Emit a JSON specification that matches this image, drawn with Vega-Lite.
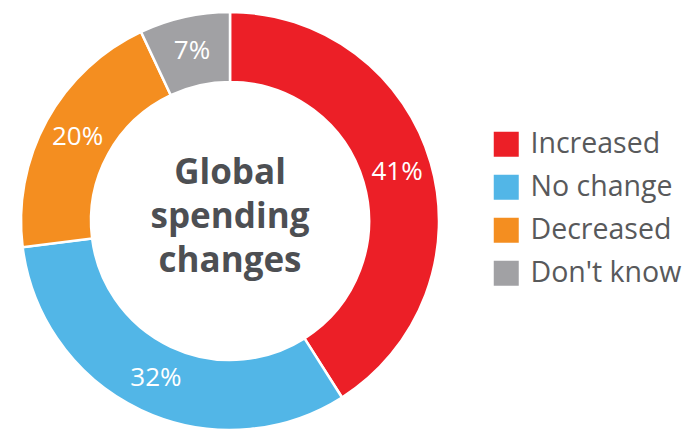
{
  "$schema": "https://vega.github.io/schema/vega-lite/v6.json",
  "width": 460,
  "height": 442,
  "padding": 0,
  "autosize": {"type": "pad"},
  "background": "white",
  "config": {"view": {"stroke": null}},
  "data": {
    "values": [
      {"category": "Increased", "value": 0.41, "order": 1},
      {"category": "No change", "value": 0.32, "order": 2},
      {"category": "Decreased", "value": 0.20, "order": 3},
      {"category": "Don't know", "value": 0.07, "order": 4}
    ]
  },
  "encoding": {
    "theta": {"field": "value", "type": "quantitative", "stack": true},
    "order": {"field": "order", "type": "quantitative"}
  },
  "layer": [
    {
      "mark": {"type": "arc", "outerRadius": 209, "innerRadius": 139, "stroke": "white", "strokeWidth": 2.5},
      "encoding": {
        "color": {
          "field": "category",
          "type": "nominal",
          "sort": ["Increased", "No change", "Decreased", "Don't know"],
          "scale": {
            "domain": ["Increased", "No change", "Decreased", "Don't know"],
            "range": ["#ec1f27", "#52b6e7", "#f48e20", "#a1a1a4"]
          },
          "legend": {
            "title": null,
            "orient": "none",
            "legendX": 492,
            "legendY": 130,
            "padding": 0,
            "symbolType": "square",
            "symbolSize": 625,
            "symbolStrokeWidth": 0,
            "labelFont": "Open Sans",
            "labelFontSize": 28.5,
            "labelColor": "#58595b",
            "labelOffset": 10,
            "rowPadding": 14,
            "labelLimit": 300
          }
        }
      }
    },
    {
      "mark": {"type": "text", "radius": 174, "font": "Open Sans", "fontSize": 26, "color": "white"},
      "encoding": {
        "text": {"field": "value", "type": "quantitative", "format": ".0%"}
      }
    },
    {
      "data": {"values": [{"title": "Global|spending|changes"}]},
      "mark": {"type": "text", "lineBreak": "|", "lineHeight": 44, "font": "Open Sans", "fontWeight": "bold", "fontSize": 35, "color": "#4d4f53", "baseline": "middle", "align": "center", "dy": -48},
      "encoding": {
        "text": {"field": "title", "type": "nominal"},
        "theta": null,
        "order": null
      }
    }
  ]
}
